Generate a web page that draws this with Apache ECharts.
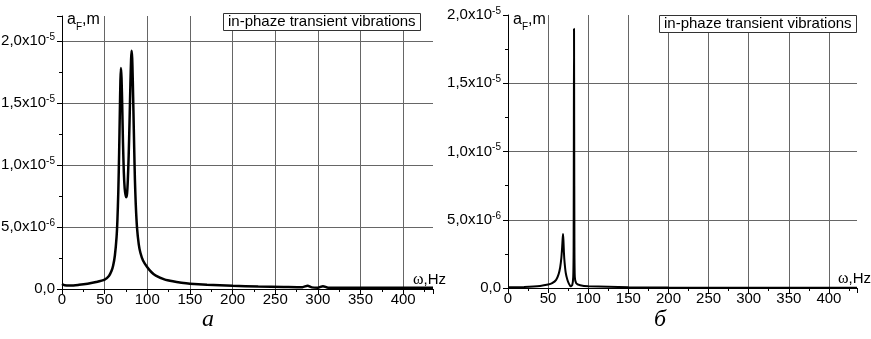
<!DOCTYPE html>
<html>
<head>
<meta charset="utf-8">
<script src="https://cdn.jsdelivr.net/npm/echarts@6/dist/echarts.min.js"></script>
<style>
html,body{margin:0;padding:0;background:#fff;}
#chart{width:871px;height:339px;}
</style>
</head>
<body>
<div id="chart"></div>
<script>
// ---- Data ----
const xTickValues = [0, 50, 100, 150, 200, 250, 300, 350, 400];
const xTickLabels = ['0', '50', '100', '150', '200', '250', '300', '350', '400'];
const yTickValues = [0, 5e-6, 1e-5, 1.5e-5, 2e-5];
const yTickLabels = ['0,0', '5,0x10{sup|-6}', '1,0x10{sup|-5}', '1,5x10{sup|-5}', '2,0x10{sup|-5}'];

// Panel a
const freqA = [0, 3, 10, 20, 30, 40, 50, 55, 58, 60, 62, 64, 65, 66, 67, 67.8, 68.5, 69.1, 69.8, 70.6, 71.5, 72.5, 73.5, 74.5, 75.4, 76.3, 77.2, 78.2, 79.2, 80.2, 81, 81.6, 82.3, 83, 83.8, 84.6, 85.5, 86.5, 88, 90, 92, 95, 100, 105, 110, 120, 130, 140, 150, 170, 200, 230, 260, 282, 288, 293, 300, 306, 312, 330, 360, 400, 435];
const ampA  = [4.0e-7, 3.0e-7, 2.8e-7, 3.4e-7, 4.3e-7, 5.6e-7, 7.6e-7, 1.05e-6, 1.45e-6, 1.9e-6, 2.7e-6, 4.2e-6, 5.6e-6, 7.8e-6, 1.1e-5, 1.42e-5, 1.68e-5, 1.78e-5, 1.7e-5, 1.48e-5, 1.18e-5, 9.4e-6, 8.1e-6, 7.6e-6, 7.4e-6, 7.7e-6, 8.8e-6, 1.08e-5, 1.35e-5, 1.65e-5, 1.85e-5, 1.92e-5, 1.86e-5, 1.68e-5, 1.42e-5, 1.15e-5, 8.8e-6, 6.8e-6, 4.9e-6, 3.6e-6, 2.9e-6, 2.3e-6, 1.75e-6, 1.35e-6, 1.08e-6, 7.8e-7, 6.2e-7, 5.1e-7, 4.3e-7, 3.4e-7, 2.6e-7, 2.0e-7, 1.7e-7, 1.5e-7, 2.6e-7, 1.3e-7, 1.1e-7, 2.3e-7, 1.0e-7, 1.0e-7, 1.0e-7, 1.0e-7, 1.0e-7];

// Panel б
const freqB = [0, 20, 40, 50, 55, 60, 63, 65, 66.5, 67.5, 68.1, 68.6, 69.1, 69.7, 70.5, 72, 74, 76, 78, 80, 81.3, 81.8, 82.1, 82.3, 82.5, 82.8, 83.3, 85, 90, 100, 150, 200, 300, 435];
const ampB  = [5e-8, 8e-8, 1.5e-7, 2.5e-7, 3.5e-7, 6e-7, 1.0e-6, 1.5e-6, 2.2e-6, 3.0e-6, 3.6e-6, 3.95e-6, 3.5e-6, 2.6e-6, 1.9e-6, 1.1e-6, 6e-7, 3e-7, 1.2e-7, 2e-7, 8e-7, 3e-6, 1.2e-5, 1.9e-5, 1.2e-5, 3e-6, 8e-7, 3.5e-7, 2e-7, 1.2e-7, 6e-8, 3e-8, 2e-8, 1e-8];

const legendText = 'in-phaze transient vibrations';
const captions = ['а', 'б'];

// ---- Build ----
const FONT = "'Liberation Sans Narrow', 'Arial Narrow', 'Liberation Sans', Arial, sans-serif";
const SERIF = "'Liberation Serif', 'Times New Roman', serif";
const pairs = (xs, ys) => xs.map((x, i) => [x, ys[i]]);
const yFmt = v => { const i = yTickValues.findIndex(t => Math.abs(t - v) < 1e-12); return i >= 0 ? yTickLabels[i] : ''; };
const xFmt = v => { const i = xTickValues.indexOf(v); return i >= 0 ? xTickLabels[i] : ''; };

function xAxisCfg(gi) {
  return {
    type: 'value', gridIndex: gi, min: 0, max: 435, interval: 50,
    axisLine: { show: true, onZero: false, lineStyle: { color: '#000', width: 1 } },
    axisTick: { show: true, inside: false, length: 5, lineStyle: { color: '#000' } },
    minorTick: { show: true, splitNumber: 2, length: 3, lineStyle: { color: '#000' } },
    axisLabel: { formatter: xFmt, showMaxLabel: false, color: '#000', fontSize: 15, fontFamily: FONT, margin: 3 },
    splitLine: { show: true, showMinLine: false, showMaxLine: false, lineStyle: { color: '#666', width: 1 } }
  };
}
function yAxisCfg(gi, max) {
  return {
    type: 'value', gridIndex: gi, min: 0, max: max, interval: 5e-6,
    axisLine: { show: true, lineStyle: { color: '#000', width: 1 } },
    axisTick: { show: true, inside: false, length: 5, lineStyle: { color: '#000' } },
    minorTick: { show: true, splitNumber: 2, length: 3, lineStyle: { color: '#000' } },
    axisLabel: {
      formatter: yFmt, showMaxLabel: max === 2e-5, color: '#000', fontSize: 15, fontFamily: FONT, margin: 7,
      lineHeight: 18,
      rich: { sup: { fontSize: 10, fontFamily: FONT, color: '#000', lineHeight: 9, verticalAlign: 'top' } }
    },
    splitLine: { show: true, showMinLine: false, showMaxLine: false, lineStyle: { color: '#666', width: 1 } }
  };
}

const aLabelStyle = { text: 'a{sub|F},m', font: '16px ' + FONT, fill: '#000',
  rich: { sub: { fontSize: 10, fontFamily: FONT, fill: '#000', verticalAlign: 'bottom', lineHeight: 24 } } };
const wLabelStyle = { text: '{w|ω},Hz', font: '15px ' + FONT, fill: '#000',
  rich: { w: { fontSize: 16, fontFamily: SERIF, fill: '#000' } } };

const option = {
  animation: false,
  backgroundColor: '#fff',
  title: [
    { text: legendText, left: 223, top: 13, padding: [1, 5, 1, 5], borderWidth: 1, borderColor: '#333', backgroundColor: '#fff',
      textStyle: { fontSize: 15, fontWeight: 'normal', fontFamily: FONT, color: '#000', lineHeight: 16 } },
    { text: legendText, left: 659, top: 15, padding: [1, 5, 1, 5], borderWidth: 1, borderColor: '#333', backgroundColor: '#fff',
      textStyle: { fontSize: 15, fontWeight: 'normal', fontFamily: FONT, color: '#000', lineHeight: 16 } }
  ],
  grid: [
    { left: 62, top: 16, width: 371, height: 273, containLabel: false, outerBoundsMode: 'none' },
    { left: 508, top: 15, width: 349, height: 273, containLabel: false, outerBoundsMode: 'none' }
  ],
  xAxis: [xAxisCfg(0), xAxisCfg(1)],
  yAxis: [yAxisCfg(0, 2.2e-5), yAxisCfg(1, 2e-5)],
  series: [
    { type: 'line', xAxisIndex: 0, yAxisIndex: 0, data: pairs(freqA, ampA), showSymbol: false, smooth: 0.25,
      lineStyle: { color: '#000', width: 2.5 }, z: 5 },
    { type: 'line', xAxisIndex: 1, yAxisIndex: 1, data: pairs(freqB, ampB), showSymbol: false, smooth: 0.15,
      lineStyle: { color: '#000', width: 2 }, z: 5 }
  ],
  graphic: [
    { type: 'text', left: 67, top: 12, z: 10, style: aLabelStyle },
    { type: 'text', left: 513, top: 12, z: 10, style: aLabelStyle },
    { type: 'text', left: 413, top: 272, z: 10, style: wLabelStyle },
    { type: 'text', left: 838, top: 271, z: 10, style: wLabelStyle },
    { type: 'text', x: 208, y: 320, z: 10, style: { text: captions[0], font: 'italic 24px ' + SERIF, fill: '#000', align: 'center', verticalAlign: 'middle' } },
    { type: 'text', x: 660, y: 320, z: 10, style: { text: captions[1], font: 'italic 24px ' + SERIF, fill: '#000', align: 'center', verticalAlign: 'middle' } }
  ]
};
const chart = echarts.init(document.getElementById('chart'), null, { renderer: 'canvas' });
chart.setOption(option);
</script>
</body>
</html>
